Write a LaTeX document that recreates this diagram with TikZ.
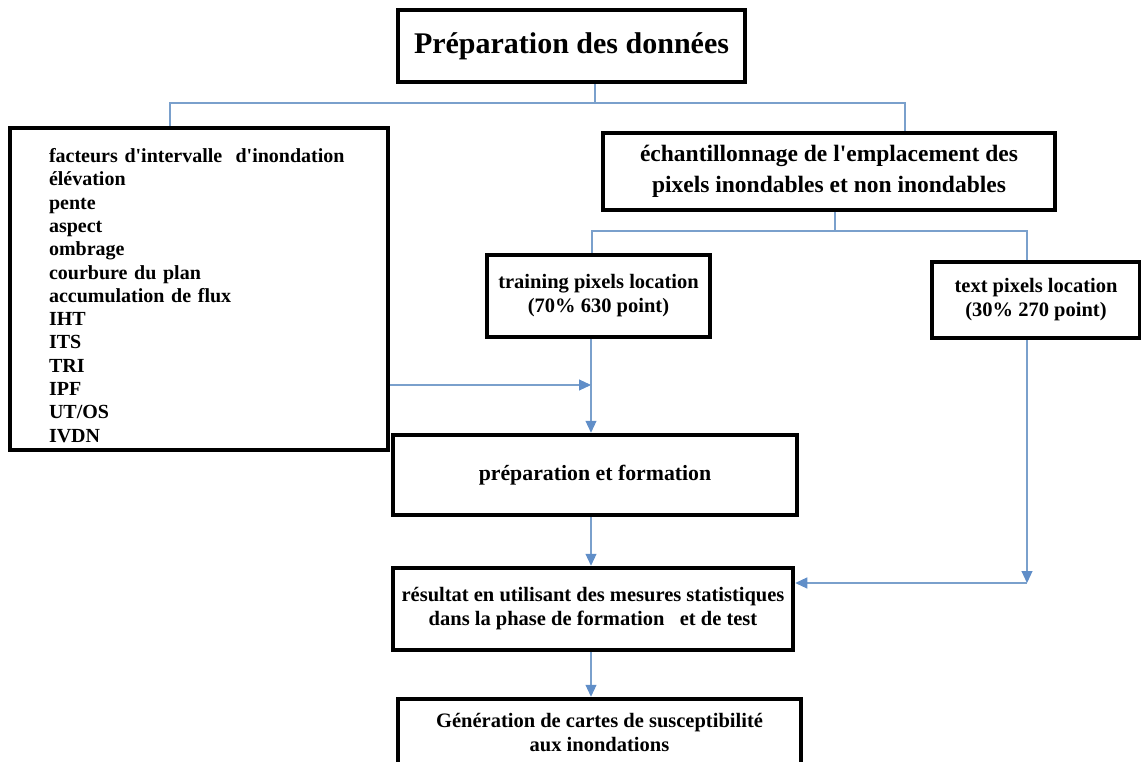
\documentclass[tikz,border=0pt]{standalone}
\usepackage{fontspec}
\setmainfont{Liberation Serif}[Ligatures=TeXOff]
\usetikzlibrary{arrows.meta}
\definecolor{linkblue}{RGB}{122,160,204}
\definecolor{tipblue}{RGB}{96,142,200}
\begin{document}
\begin{tikzpicture}[x=1pt,y=-1pt,
  box/.style={draw=black, line width=4.5pt, rectangle, inner sep=0pt,
    align=center, font=\bfseries\fontsize{20.5}{24}\selectfont},
  link/.style={draw=linkblue, line width=1.1pt},
  arr/.style={link, -{Triangle[length=12pt,width=11pt,color=tipblue]}}]
\useasboundingbox (0,0) rectangle (1141,762);

% boxes
\node[box, minimum width=347, minimum height=72, font=\bfseries\fontsize{30}{34}\selectfont]
  (top) at (571.5,46) {Préparation des données};
\node[box, minimum width=378, minimum height=322, text width=300, inner xsep=39,
  align=left, font=\bfseries\fontsize{20}{23.3}\selectfont]
  (factors) at (199,289) {\rule{0pt}{27pt}facteurs d'intervalle \ d'inondation\\élévation\\pente\\aspect\\ombrage\\courbure du plan\\accumulation de flux\\IHT\\ITS\\TRI\\IPF\\UT/OS\\IVDN};
\node[box, minimum width=452, minimum height=77, font=\bfseries\fontsize{23.5}{31}\selectfont]
  (sample) at (829,171.5) {échantillonnage de l'emplacement des\\pixels inondables et non inondables};
\node[box, minimum width=223, minimum height=82]
  (train) at (598.5,296) {training pixels location\\(70\% 630 point)};
\node[box, minimum width=208, minimum height=76]
  (testb) at (1036,300) {text pixels location\\(30\% 270 point)};
\node[box, minimum width=404, minimum height=80, font=\bfseries\fontsize{21.8}{24}\selectfont]
  (prep) at (595,475) {préparation et formation};
\node[box, minimum width=400, minimum height=82]
  (result) at (593,609) {résultat en utilisant des mesures statistiques\\dans la phase de formation \ \ et de test};
\node[box, minimum width=403, minimum height=67]
  (gen) at (599.5,732.5) {Génération de cartes de susceptibilité\\aux inondations};

% junction points of the connectors
\coordinate (j1) at (595,103);
\coordinate (jL) at (170,103);
\coordinate (jR) at (905,103);
\coordinate (j2) at (835,231);
\coordinate (kL) at (592,231);
\coordinate (kR) at (1027,231);
\coordinate (mid) at (591,385);
\coordinate (tc) at (1027,583);

% connectors
\draw[link] (top.south -| j1) -- (j1);
\draw[link] (jL |- factors.north) -- (jL) -- (jR) -- (jR |- sample.north);
\draw[link] (sample.south -| j2) -- (j2);
\draw[link] (kL |- train.north) -- (kL) -- (kR) -- (kR |- testb.north);
\draw[link] (train.south -| mid) -- (mid);
\draw[arr] (factors.east |- mid) -- (mid);
\draw[arr] (mid) -- (prep.north -| mid);
\draw[arr] (prep.south -| mid) -- (result.north -| mid);
\draw[arr] (result.south -| mid) -- (gen.north -| mid);
\draw[arr] (testb.south -| tc) -- (tc);
\draw[arr] (tc) -- (result.east |- tc);
\end{tikzpicture}
\end{document}
